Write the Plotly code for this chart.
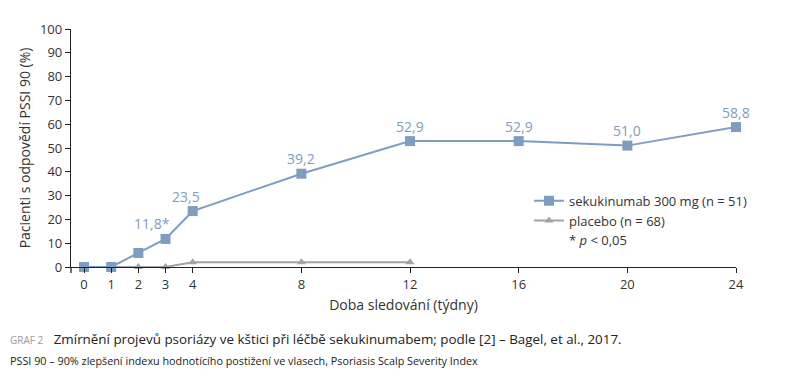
import plotly.graph_objects as go

weeks = [0, 1, 2, 3, 4, 8, 12, 16, 20, 24]
seku = [0, 0, 5.9, 11.8, 23.5, 39.2, 52.9, 52.9, 51.0, 58.8]
seku_labels = ["", "", "", "11,8*", "23,5", "39,2", "52,9", "52,9", "51,0", "58,8"]
placebo_weeks = [0, 1, 2, 3, 4, 8, 12]
placebo = [0, 0, 0, 0, 2, 2, 2]
x_ticks = [0, 1, 2, 3, 4, 8, 12, 16, 20, 24]
y_ticks = list(range(0, 101, 10))

BLUE = "#7d9ec0"
GRAY = "#a3a3a3"
TXT = "#333333"
FONT = "Open Sans"

# page body has an 8px margin; figure is sized/offset to compensate
OFF = 8
PL, PT, PR, PB = 71, 24, 736, 267   # plot area in page pixels
PW, PH = PR - PL, PB - PT


def px(xp):
    return (xp - PL) / PW


def py(yp):
    return (PB - yp) / PH


fig = go.Figure()
fig.add_trace(go.Scatter(
    x=placebo_weeks, y=placebo, mode="lines+markers",
    name="placebo (n = 68)",
    line=dict(color=GRAY, width=2),
    marker=dict(symbol="triangle-up", size=8, color=GRAY),
    cliponaxis=False,
))
fig.add_trace(go.Scatter(
    x=weeks, y=seku, mode="lines+markers",
    name="sekukinumab 300 mg (n = 51)",
    line=dict(color=BLUE, width=2),
    marker=dict(symbol="square", size=10, color=BLUE),
    cliponaxis=False,
))

# data labels
for xv, yv, lab in zip(weeks, seku, seku_labels):
    if not lab:
        continue
    xs = 0
    if lab.endswith("*"):
        xs = -14
    elif xv == 4:
        xs = -7
    fig.add_annotation(x=xv, y=yv, text=lab, showarrow=False,
                       xshift=xs, yshift=15,
                       font=dict(family=FONT, size=14, color=BLUE))

fig.add_annotation(xref="paper", yref="paper", x=px(567), y=py(239),
                   xanchor="left", yanchor="middle", showarrow=False,
                   text="* <i>p</i> < 0,05", font=dict(family=FONT, size=13, color=TXT))

# captions
fig.add_annotation(xref="paper", yref="paper", x=px(8), y=py(341),
                   xanchor="left", yanchor="middle", showarrow=False,
                   text="<span style='font-size:10px;color:#9a9a9a'>GRAF 2</span>\u00a0\u00a0\u00a0Zmírnění projevů psoriázy ve kštici při léčbě sekukinumabem; podle [2] – Bagel, et al., 2017.",
                   font=dict(family=FONT, size=13.4, color="#222222"))
fig.add_annotation(xref="paper", yref="paper", x=px(8), y=py(362),
                   xanchor="left", yanchor="middle", showarrow=False,
                   text="PSSI 90 – 90% zlepšení indexu hodnotícího postižení ve vlasech, Psoriasis Scalp Severity Index",
                   font=dict(family=FONT, size=10.8, color="#222222"))

W, H = 786 - OFF, 383 - OFF
fig.update_layout(
    width=W, height=H,
    margin=dict(l=PL - OFF, r=W - (PR - OFF), t=PT - OFF, b=H - (PB - OFF)),
    paper_bgcolor="white", plot_bgcolor="white",
    font=dict(family=FONT, size=13, color=TXT),
    showlegend=True,
    legend=dict(x=px(529), y=py(184), xanchor="left", yanchor="top",
                traceorder="reversed", font=dict(family=FONT, size=13, color=TXT),
                bgcolor="rgba(0,0,0,0)", itemwidth=30, tracegroupgap=0),
    xaxis=dict(range=[-0.48, 24], tickvals=x_ticks, ticktext=[str(t) for t in x_ticks],
               showgrid=False, zeroline=False, showline=True, linecolor="#222222", linewidth=1.3,
               ticks="outside", ticklen=5, tickcolor="#222222",
               title=dict(text="Doba sledování (týdny)", standoff=8, font=dict(size=14)),
               tickfont=dict(size=13)),
    yaxis=dict(range=[0, 100], tickvals=y_ticks, showgrid=False, zeroline=False,
               showline=True, linecolor="#222222", linewidth=1.3,
               ticks="outside", ticklen=5, tickcolor="#222222",
               title=dict(text="Pacienti s odpovědí PSSI 90 (%)", standoff=6, font=dict(size=14)),
               tickfont=dict(size=13)),
)
# y-axis line extends slightly below the x axis
fig.add_shape(type="line", xref="paper", yref="paper", x0=0, x1=0, y0=0, y1=-6 / PH,
              line=dict(color="#222222", width=1.3))

fig.write_html("out.html")
